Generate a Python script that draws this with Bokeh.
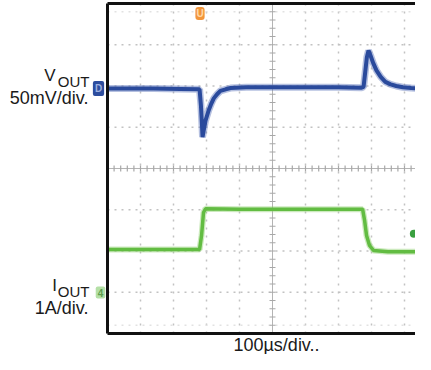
import math
from bokeh.plotting import figure
from bokeh.models import Range1d, Label
from bokeh.embed import file_html
from bokeh.resources import INLINE

# ---- scope settings ----
US_PER_DIV = 100      # 100us/div
MV_PER_DIV = 50       # 50mV/div
A_PER_DIV = 1         # 1A/div
N_XDIV, N_YDIV = 10, 8
VOUT_ZERO_DIV = 5.94  # channel D ground marker position (divisions from bottom)
IOUT_ZERO_DIV = 0.994 # channel 4 ground marker position

# ---- VOUT trace (AC coupled deviation, mV) ----
t_vout_us = [0, 60, 140, 220, 279, 283, 286, 288, 291, 297, 307, 315, 322, 332,
             342, 358, 373, 420, 500, 600, 700, 770, 776, 781, 786, 791, 797,
             805, 815, 828, 842, 858, 875, 895, 920, 950, 980]
vout_mv = [0, 0, 0, -0.5, -1, -20, -42, -59, -52, -39, -26, -18, -12, -7,
           -3, -1, 0.5, 1.5, 1.5, 1.5, 1.5, 1, 2, 20, 38, 46, 40,
           31, 22, 14, 8, 5, 3, 1.5, 0.5, 0, 0]

# ---- IOUT trace (A) ----
t_iout_us = [0, 100, 200, 279, 285, 291, 297, 400, 500, 600, 700, 773, 779,
             785, 794, 806, 850, 900, 980]
iout_a = [1.04, 1.04, 1.04, 1.04, 1.38, 1.94, 2.03, 2.02, 2.02, 2.02, 2.02, 2.02,
          1.75, 1.38, 1.14, 1.02, 0.99, 0.99, 0.99]

# ---- labels ----
vout_name, vout_sub, vout_scale = "V", "OUT", "50mV/div."
iout_name, iout_sub, iout_scale = "I", "OUT", "1A/div."
time_scale = "100µs/div.."

FONT = "Liberation Sans"

W, H = 415, 354
X0_PX, Y0_PX = 107, 333       # graticule origin in page pixels
DX, DY = 33.0, 41.25           # pixels per division
TEXT_SHIFT = 6                 # label baseline correction (px)

p = figure(width=W, height=H, output_backend="svg", toolbar_location=None,
           x_range=Range1d(-X0_PX / DX, (W - X0_PX) / DX),
           y_range=Range1d((Y0_PX - H) / DY, Y0_PX / DY),
           min_border=0, x_axis_type=None, y_axis_type=None)
p.outline_line_color = None
p.grid.visible = False
p.background_fill_color = "white"
p.border_fill_color = "white"
X_END = (W - X0_PX) / DX

# dotted graticule
gx = [k for k in range(1, N_XDIV) if k != 5]
gy = [k for k in range(1, N_YDIV) if k != 4]
p.segment(x0=gx, y0=[0] * len(gx), x1=gx, y1=[N_YDIV] * len(gx),
          line_color="#c2c2c2", line_width=1.5, line_dash="2 6")
p.segment(x0=[0] * len(gy), y0=gy, x1=[X_END] * len(gy), y1=gy,
          line_color="#c2c2c2", line_width=1.5, line_dash="2 5")
# faint edge tick rows
p.segment(x0=[0, 0], y0=[0.2, N_YDIV - 0.2], x1=[X_END, X_END], y1=[0.2, N_YDIV - 0.2],
          line_color="#e2e2e2", line_width=1.5, line_dash="2 5")

# centre cross with minor ticks
p.segment(x0=[5, 0], y0=[0, 4], x1=[5, X_END], y1=[N_YDIV, 4],
          line_color="#b4b4b4", line_width=1)
minor_x = [k / 5 for k in range(1, 5 * N_XDIV)]
minor_y = [k / 5 for k in range(1, 5 * N_YDIV)]
p.scatter(x=minor_x, y=[4] * len(minor_x), marker="dash", angle=math.pi / 2,
          size=6, line_color="#a8a8a8", line_width=1.2)
p.scatter(x=[5] * len(minor_y), y=minor_y, marker="dash", size=6,
          line_color="#a8a8a8", line_width=1.2)

# traces
xv = [t / US_PER_DIV for t in t_vout_us]
yv = [VOUT_ZERO_DIV + v / MV_PER_DIV for v in vout_mv]
xi = [t / US_PER_DIV for t in t_iout_us]
yi = [IOUT_ZERO_DIV + a / A_PER_DIV for a in iout_a]

p.line(xv, yv, line_width=7, line_color="#5a74bb", line_alpha=0.45)
p.line(xv, yv, line_width=4, line_color="#2a4a9c")
p.line(xi, yi, line_width=6, line_color="#8fd06f", line_alpha=0.45)
p.line(xi, yi, line_width=3.5, line_color="#62bc42")

# trigger level dot at right edge
p.scatter(x=[X_END - 0.05], y=[2.42], size=8, fill_color="#3aa040", line_color=None)

# frame border (left, top, bottom; right edge lies beyond the picture)
p.segment(x0=[0, 0, 0], y0=[0, N_YDIV, 0], x1=[0, X_END, X_END], y1=[N_YDIV, N_YDIV, 0],
          line_color="#111111", line_width=3)

def px(x):
    return (x - X0_PX) / DX

def py(y):
    return (Y0_PX - y) / DY

def lab(text, x, y, size, align="right", color="#1a1a1a", **kw):
    p.add_layout(Label(x=px(x), y=py(y - TEXT_SHIFT), text=text, text_font=FONT,
                       text_font_size=f"{size}px", text_align=align,
                       text_baseline="alphabetic", text_color=color, **kw))

lab(vout_name, 55, 81, 17)
lab(vout_sub, 89, 87, 15)
lab(vout_scale, 88, 103, 18)
lab(iout_name, 56.5, 291, 17)
lab(iout_sub, 89, 297, 15)
lab(iout_scale, 88, 313, 18)
lab(time_scale, 276, 350, 18, align="center")

# channel / trigger markers
p.add_layout(Label(x=px(98), y=py(88), text="D", text_font=FONT, text_font_size="10px",
                   text_font_style="bold", text_align="center", text_baseline="middle",
                   text_color="#9fb0de", background_fill_color="#2d4d9e", padding=2,
                   border_radius=2))
p.add_layout(Label(x=px(100), y=py(292), text="4", text_font=FONT, text_font_size="10px",
                   text_font_style="bold", text_align="center", text_baseline="middle",
                   text_color="#5f9f4f", background_fill_color="#b4e0a6", padding=2,
                   border_radius=2))
p.add_layout(Label(x=px(199.5), y=py(13), text="U", text_font=FONT, text_font_size="10px",
                   text_font_style="bold", text_align="center", text_baseline="middle",
                   text_color="#ffd8a8", background_fill_color="#f2953a", padding=1,
                   border_radius=3))

open("out.html", "w").write(file_html(p, INLINE))
